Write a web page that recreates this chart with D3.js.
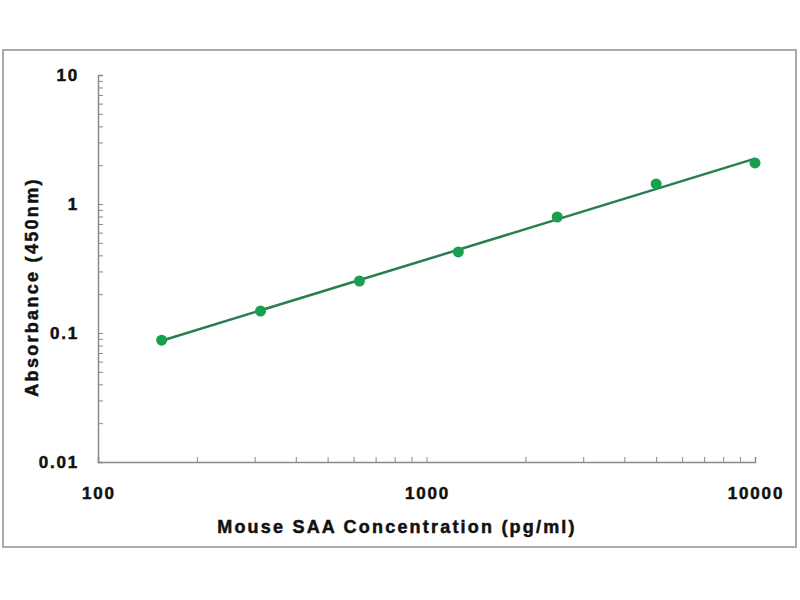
<!DOCTYPE html>
<html>
<head>
<meta charset="utf-8">
<script src="https://cdn.jsdelivr.net/npm/d3@7"></script>
<style>
  body { margin: 0; background: #fff; }
  text { font-family: "Liberation Sans", Arial, sans-serif; font-weight: bold; fill: #111; stroke: #111; stroke-width: 0.5px; }
</style>
</head>
<body>
<div id="chart"></div>
<script>
// standard curve values
var concentrations = [156.25, 312.5, 625, 1250, 2500, 5000, 10000];
var absorbances = [0.088, 0.148, 0.253, 0.425, 0.793, 1.43, 2.08];
var xTicks = [100, 1000, 10000];
var yTicks = [0.01, 0.1, 1, 10];
var xTitle = "Mouse SAA Concentration (pg/ml)";
var yTitle = "Absorbance (450nm)";

var width = 800, height = 600;
var svg = d3.select("#chart").append("svg")
  .attr("width", width)
  .attr("height", height);

// outer frame
svg.append("rect")
  .attr("x", 3).attr("y", 50)
  .attr("width", 793).attr("height", 497)
  .attr("fill", "none")
  .attr("stroke", "#aaa")
  .attr("stroke-width", 2);

var x = d3.scaleLog().domain([100, 10000]).range([98, 755]);
var y = d3.scaleLog().domain([0.01, 10]).range([462, 75]);

// minor + major ticks, pointing inside
var xAxis = d3.axisBottom(x).tickSize(-5).tickFormat("");
var yAxis = d3.axisLeft(y).tickSize(-5).tickFormat("");

var gx = svg.append("g").attr("transform", "translate(0,462)").call(xAxis);
var gy = svg.append("g").attr("transform", "translate(98,0)").call(yAxis);
[gx, gy].forEach(function (g) {
  g.select(".domain").attr("stroke", "#8a8a8a").attr("stroke-width", 1.5);
  g.selectAll(".tick line").attr("stroke", "#8a8a8a");
});

svg.selectAll(".xlab")
  .data(xTicks)
  .enter().append("text")
  .attr("class", "xlab")
  .attr("x", function (d) { return x(d) + 1; })
  .attr("y", 499)
  .attr("text-anchor", "middle")
  .style("font-size", "17px")
  .style("letter-spacing", "1.8px")
  .text(function (d) { return d; });

svg.selectAll(".ylab")
  .data(yTicks)
  .enter().append("text")
  .attr("class", "ylab")
  .attr("x", 79)
  .attr("y", function (d) { return y(d); })
  .attr("dy", "0.35em")
  .attr("text-anchor", "end")
  .style("font-size", "17px")
  .style("letter-spacing", "1.8px")
  .text(function (d) { return d; });

svg.append("text")
  .attr("x", 397).attr("y", 533)
  .attr("text-anchor", "middle")
  .style("font-size", "18px")
  .style("letter-spacing", "2.2px")
  .text(xTitle);

svg.append("text")
  .attr("transform", "translate(38,287) rotate(-90)")
  .attr("text-anchor", "middle")
  .style("font-size", "18px")
  .style("letter-spacing", "2.3px")
  .text(yTitle);

// power-law fit (linear in log-log)
var lx = concentrations.map(Math.log10), ly = absorbances.map(Math.log10);
var mx = d3.mean(lx), my = d3.mean(ly);
var slope = d3.sum(lx, function (v, i) { return (v - mx) * (ly[i] - my); }) /
  d3.sum(lx, function (v) { return (v - mx) * (v - mx); });
var icpt = my - slope * mx;
var fitX = [concentrations[0], concentrations[concentrations.length - 1]];
var line = d3.line()
  .x(function (d) { return x(d); })
  .y(function (d) { return y(Math.pow(10, icpt + slope * Math.log10(d))); });

svg.append("path")
  .datum(fitX)
  .attr("d", line)
  .attr("fill", "none")
  .attr("stroke", "#2a7d4f")
  .attr("stroke-width", 2.5);

svg.selectAll(".pt")
  .data(concentrations)
  .enter().append("circle")
  .attr("class", "pt")
  .attr("cx", function (d) { return x(d); })
  .attr("cy", function (d, i) { return y(absorbances[i]); })
  .attr("r", 5.5)
  .attr("fill", "#18a050");
</script>
</body>
</html>
